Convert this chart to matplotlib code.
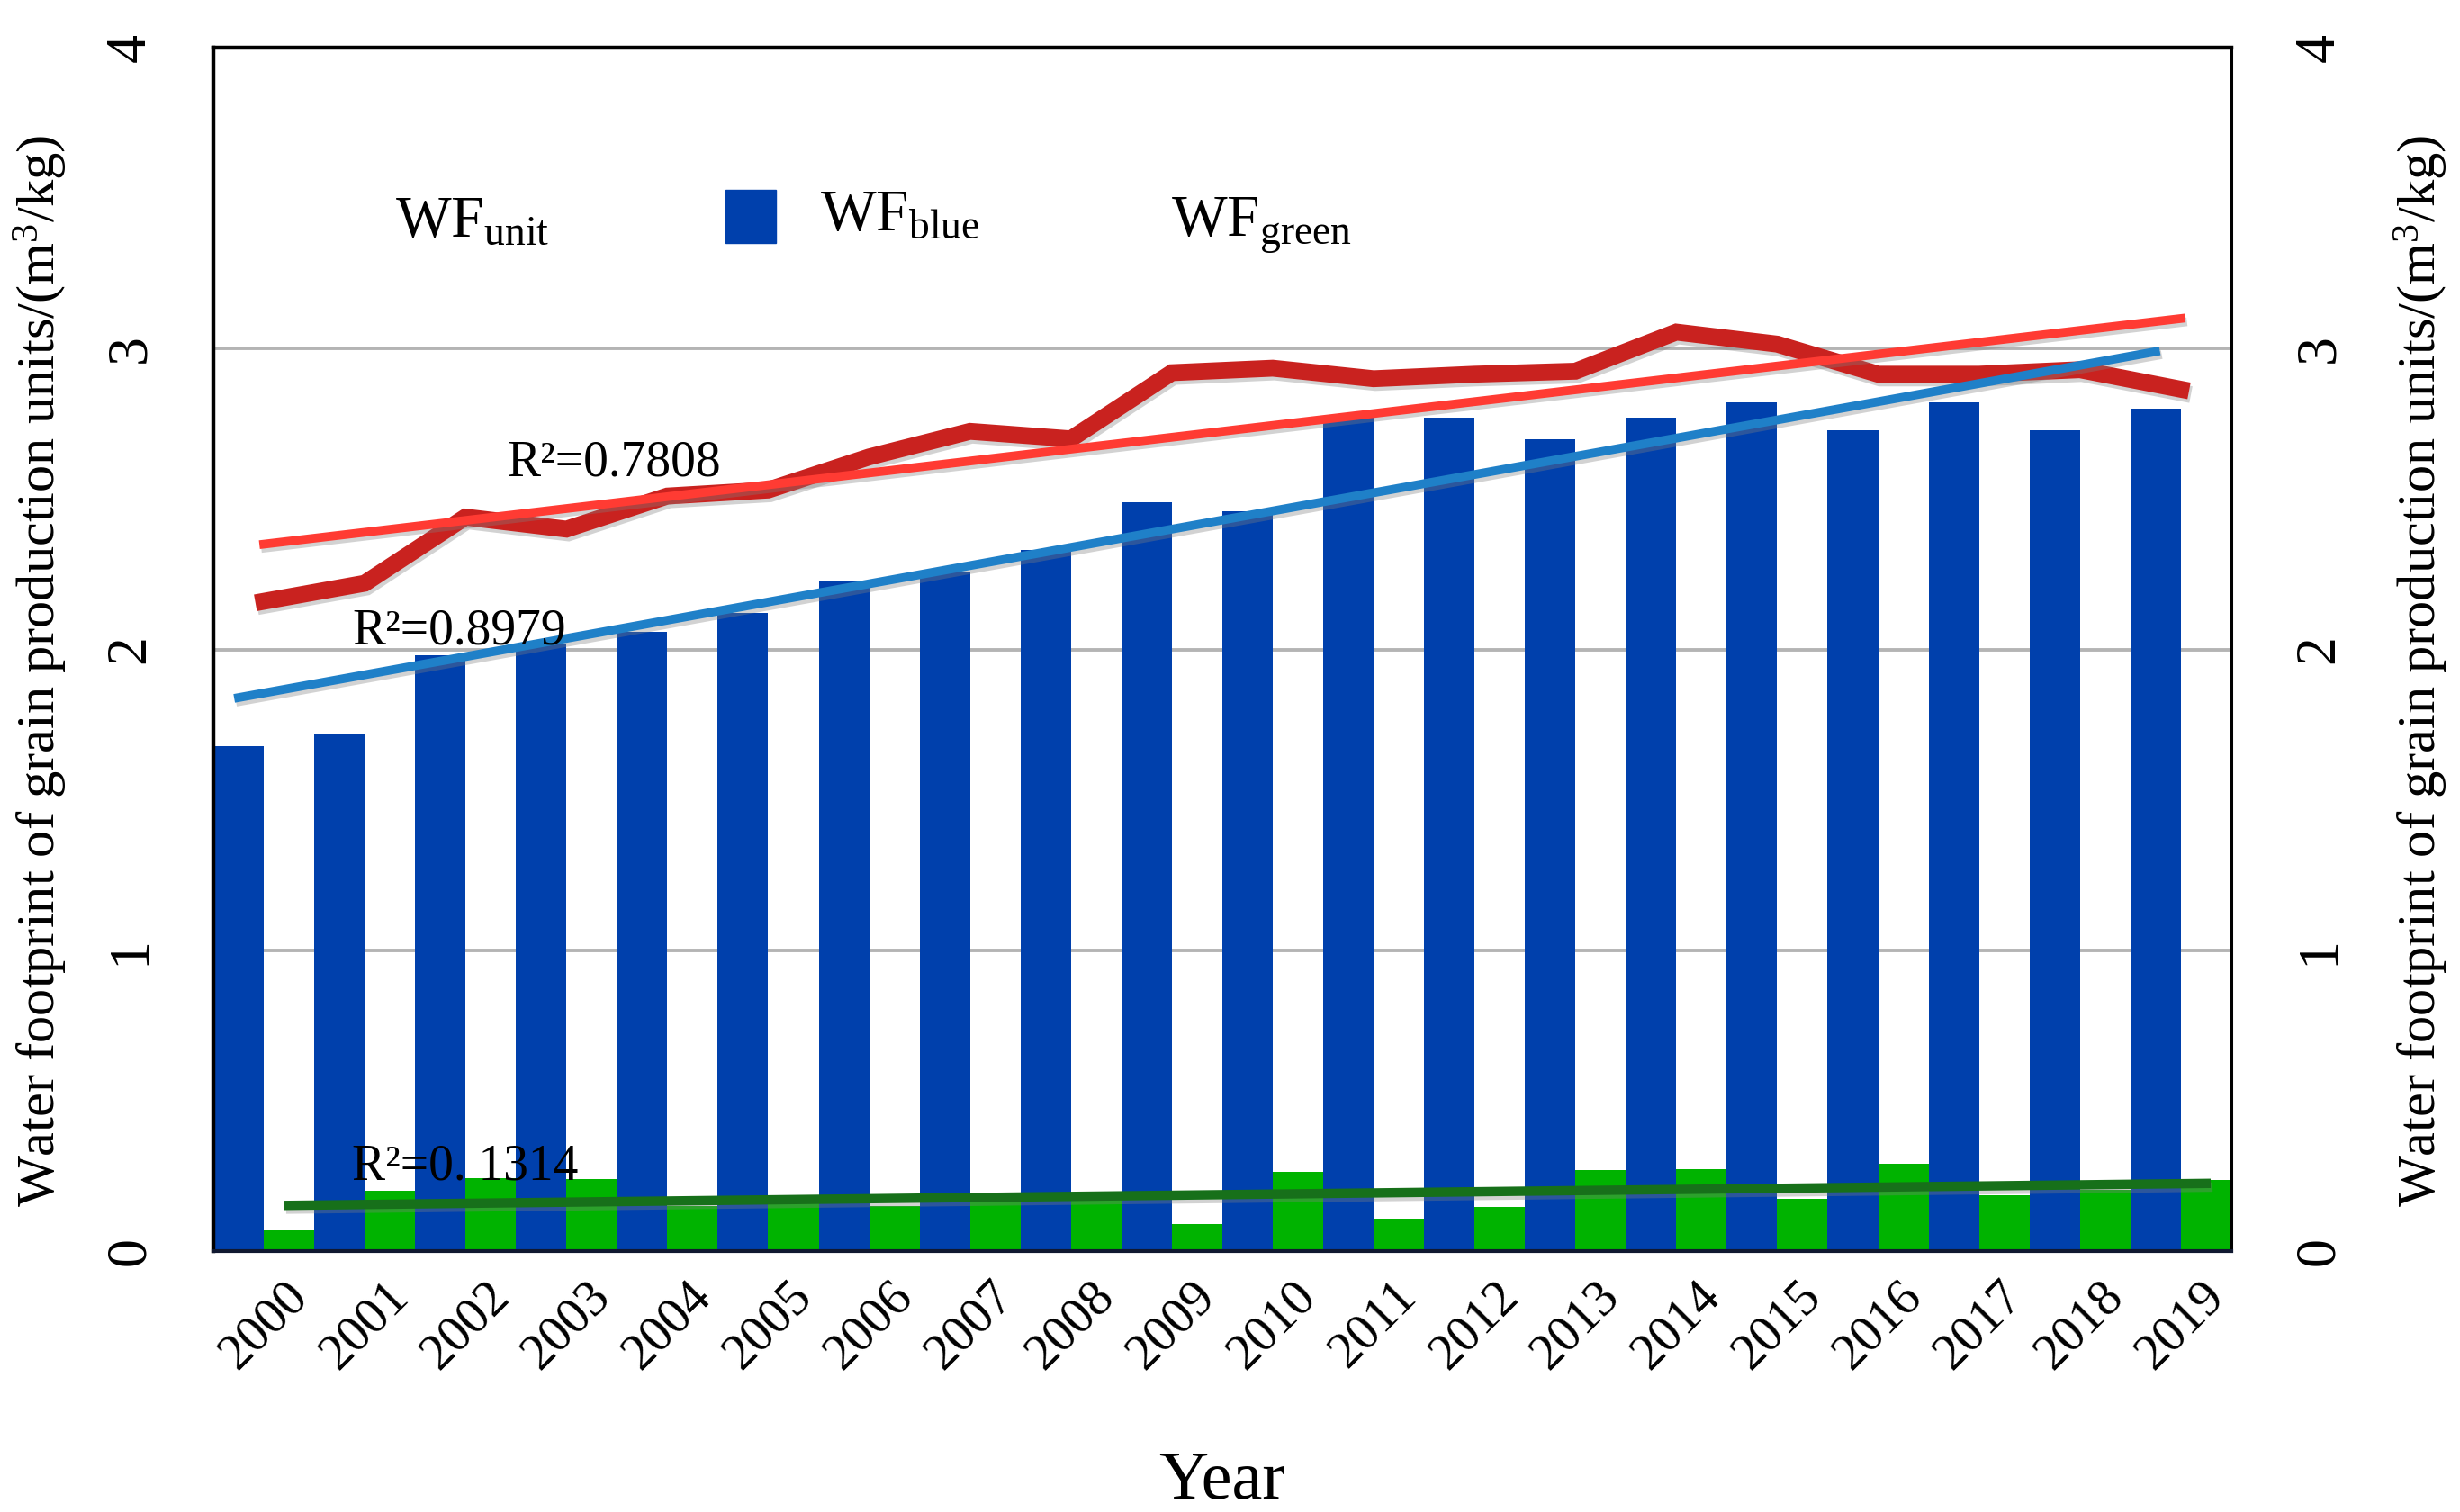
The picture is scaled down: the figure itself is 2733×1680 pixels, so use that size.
import matplotlib
matplotlib.use("Agg")
import matplotlib.pyplot as plt
import matplotlib.patheffects as pe
from matplotlib.patches import Rectangle
import numpy as np

plt.rcParams['font.family'] = ['Liberation Serif', 'DejaVu Serif']
plt.rcParams['mathtext.fontset'] = 'custom'
plt.rcParams['mathtext.rm'] = 'Liberation Serif'
plt.rcParams['mathtext.it'] = 'Liberation Serif:italic'

# data
years = list(range(2000, 2020))
wf_blue = [1.68, 1.72, 1.98, 2.02, 2.06, 2.12, 2.23, 2.26, 2.33, 2.49,
           2.46, 2.77, 2.77, 2.70, 2.77, 2.82, 2.73, 2.82, 2.73, 2.80]
wf_green = [0.068, 0.20, 0.243, 0.238, 0.15, 0.18, 0.15, 0.165, 0.17, 0.09,
            0.263, 0.107, 0.147, 0.27, 0.272, 0.175, 0.29, 0.185, 0.205, 0.235]
wf_unit = [2.16, 2.22, 2.44, 2.40, 2.51, 2.53, 2.64, 2.725, 2.70, 2.92,
           2.935, 2.90, 2.915, 2.925, 3.055, 3.015, 2.915, 2.915, 2.93, 2.865]

# trend lines: value at first and last year
trend_unit = [2.35, 3.10]
trend_blue = [1.84, 2.99]
trend_green = [0.152, 0.225]
r2_labels = ["R²=0.7808", "R²=0.8979", "R²=0. 1314"]

BLUE = "#0040AC"
GREEN = "#00B300"
RED = "#C9221F"
RED_TREND = "#FF3B33"
BLUE_TREND = "#1F80C8"
GREEN_TREND = "#17701A"
SERIF = ['Liberation Serif', 'DejaVu Serif']

fig = plt.figure(figsize=(27.33, 16.8), dpi=100)
ax = fig.add_axes([0.0867, 0.1726, 0.8203, 0.7958])

x = np.arange(len(years))

ax.bar(x - 0.25, wf_blue, width=0.5, color=BLUE, zorder=2)
ax.bar(x + 0.25, wf_green, width=0.5, color=GREEN, zorder=2)

shadow = [pe.SimpleLineShadow(offset=(1.5, -3), shadow_color="gray", alpha=0.35), pe.Normal()]

ax.plot(x, wf_unit, color=RED, lw=13.5, solid_joinstyle="miter", zorder=4, path_effects=shadow)
ax.plot([x[0], x[-1]], trend_unit, color=RED_TREND, lw=7, zorder=5, path_effects=shadow)
ax.plot([x[0] - 0.25, x[-1] - 0.25], trend_blue, color=BLUE_TREND, lw=7, zorder=5, path_effects=shadow)
ax.plot([x[0] + 0.25, x[-1] + 0.25], trend_green, color=GREEN_TREND, lw=7.5, zorder=5, path_effects=shadow)

ax.text(2.41, 2.579, r2_labels[0], fontsize=40, va="baseline", zorder=6)
ax.text(0.875, 2.019, r2_labels[1], fontsize=40, va="baseline", zorder=6)
ax.text(0.875, 0.239, r2_labels[2], fontsize=40, va="baseline", zorder=6)

ax.set_xlim(-0.5, len(years) - 0.5)
ax.set_ylim(0, 4)
ax.set_yticks([0, 1, 2, 3, 4])
ax.grid(axis="y", color="#B4B4B4", lw=2.8, zorder=0)
ax.set_axisbelow(True)

ax.set_xticks(x)
ax.set_xticklabels([str(y) for y in years], rotation=45, ha="center", va="top", fontsize=41)
ax.tick_params(axis="x", length=0, pad=17)
ax.tick_params(axis="y", length=0, pad=45, labelsize=46, labelrotation=90)
for lab in ax.get_yticklabels():
    lab.set_va("center")
    lab.set_fontfamily(SERIF)
for lab in ax.get_xticklabels():
    lab.set_fontfamily(SERIF)

for side in ["left", "top"]:
    ax.spines[side].set_linewidth(3.2)
ax.spines["right"].set_linewidth(2.2)
ax.spines["bottom"].set_linewidth(3)
ax.spines["bottom"].set_color("#101830")

ylab = "Water footprint of grain production units/(m$^{3}$/kg)"
ax.set_ylabel(ylab, fontsize=43.5, rotation=90, ha="center", va="center", family=SERIF)
ax.yaxis.set_label_coords(-0.0856, 0.482)
ax.set_xlabel("Year", fontsize=55, va="baseline", family=SERIF)
ax.xaxis.set_label_coords(0.5, -0.2057)

ax2 = ax.twinx()
ax2.set_ylim(0, 4)
ax2.set_yticks([0, 1, 2, 3, 4])
ax2.tick_params(axis="y", length=0, pad=50, labelsize=46, labelrotation=90)
for lab in ax2.get_yticklabels():
    lab.set_va("center")
    lab.set_fontfamily(SERIF)
ax2.set_ylabel(ylab, fontsize=43.5, rotation=90, ha="center", va="center", family=SERIF)
ax2.yaxis.set_label_coords(1.094, 0.482)
for s in ax2.spines.values():
    s.set_visible(False)

# legend drawn by hand to follow the original layout
ax.text(0.0901, 0.843, r"WF$_{\mathrm{unit}}$", transform=ax.transAxes, fontsize=47, va="baseline")
ax.add_patch(Rectangle((0.2538, 0.8377), 0.025, 0.0441, transform=ax.transAxes,
                       color=BLUE, zorder=6))
ax.text(0.3006, 0.848, r"WF$_{\mathrm{blue}}$", transform=ax.transAxes, fontsize=47, va="baseline")
ax.text(0.4746, 0.843, r"WF$_{\mathrm{green}}$", transform=ax.transAxes, fontsize=47, va="baseline")

fig.savefig("out.png", dpi=100)
